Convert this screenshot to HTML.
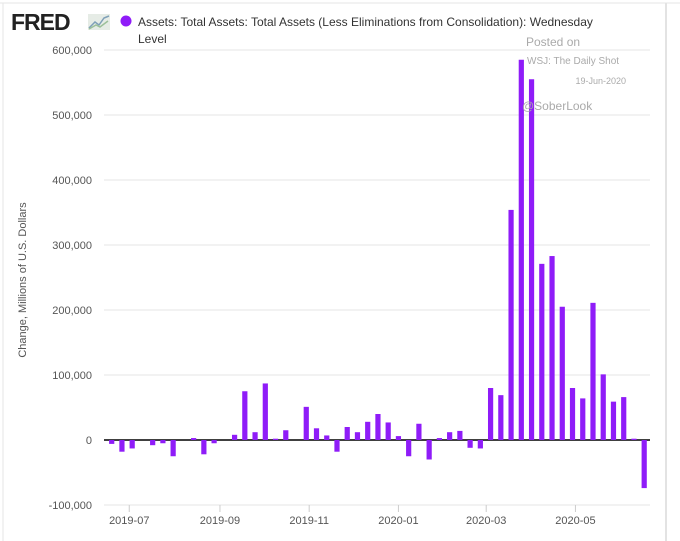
<!DOCTYPE html>
<html><head><meta charset="utf-8"><style>
body{margin:0;width:680px;height:541px;background:#fff;overflow:hidden;font-family:"Liberation Sans",sans-serif}
svg{position:absolute;left:0;top:0}
</style></head><body>
<svg width="680" height="541">
<line x1="0" y1="3" x2="680" y2="3" stroke="#e6e6e6"/>
<line x1="3" y1="3" x2="3" y2="541" stroke="#e6e6e6"/>
<line x1="666" y1="3" x2="666" y2="541" stroke="#e3e3e3" stroke-width="2"/>
<text x="11" y="30" font-size="23" font-weight="bold" fill="#222" letter-spacing="-1">FRED</text>
<g><rect x="88" y="14" width="22" height="16" fill="#e6ece6"/><polyline points="89,28 95,22 99,25 104,18 109,16" fill="none" stroke="#7fa0b8" stroke-width="1.5"/><polyline points="89,29 96,25 100,27 108,21" fill="none" stroke="#9cc09a" stroke-width="1.5"/></g>
<circle cx="126" cy="21" r="5.5" fill="#8f1cf8"/>
<text x="138" y="26" font-size="12" fill="#333">Assets: Total Assets: Total Assets (Less Eliminations from Consolidation): Wednesday</text>
<text x="138" y="43" font-size="12" fill="#333">Level</text>
<text transform="translate(26,280) rotate(-90)" text-anchor="middle" font-size="11" fill="#555">Change, Millions of U.S. Dollars</text>
<g id="grid"></g><g id="bars"></g><g id="xaxis"></g>
<g fill="#aaa">
<text x="526" y="46" font-size="12">Posted on</text>
<text x="527" y="64" font-size="10">WSJ: The Daily Shot</text>
<text x="626" y="84" font-size="9" text-anchor="end">19-Jun-2020</text>
<text x="522" y="110" font-size="12">@SoberLook</text></g>
</svg>
<script>
const values=[-6,-18,-13,0,-8,-5,-25,0,3,-22,-5,0,8,75,12,87,2,15,0,51,18,7,-18,20,12,28,40,27,6,-25,25,-30,3,12,14,-12,-13,80,69,354,585,555,271,283,205,80,64,211,101,59,66,2,-74];
const yTicks=[-100,0,100,200,300,400,500,600];
const xTickLabels=["2019-07","2019-09","2019-11","2020-01","2020-03","2020-05"];
const startDate="2019-06-19";
const NS="http://www.w3.org/2000/svg";
const y=v=>440-v*0.65;
const t0=Date.parse(startDate);
const x=ms=>111.7+(ms-t0)/864e5*1.4629;
function mk(tag,a,p){const e=document.createElementNS(NS,tag);for(const k in a)e.setAttribute(k,a[k]);document.getElementById(p).appendChild(e);return e;}
yTicks.forEach(v=>{
 const l=mk('line',{x1:104,x2:650,y1:y(v),y2:y(v),stroke:v===0?'#000':'#e6e6e6','stroke-width':v===0?1.5:1},'grid');
 
 
 const t=mk('text',{x:92,y:y(v)+4,'text-anchor':'end','font-size':11,fill:'#555'},'grid');
 t.textContent=(v*1000).toLocaleString('en-US');
 
 
});
values.forEach((v,i)=>{
 const cx=x(t0+i*7*864e5);
 const r=mk('rect',{x:cx-2.6,width:5.2,y:Math.min(y(v),y(0)),height:Math.abs(y(v)-y(0)),fill:'#8f1cf8'},'bars');
 
 
});
xTickLabels.forEach(s=>{
 const px=x(Date.parse(s+"-01"));
 const l=mk('line',{x1:px,x2:px,y1:505,y2:512,stroke:'#ccc'},'xaxis');
 
 
 const t=mk('text',{x:px,y:524,'text-anchor':'middle','font-size':11,fill:'#555'},'xaxis');
 t.textContent=s;
 
 
});
</script>
</body></html>
